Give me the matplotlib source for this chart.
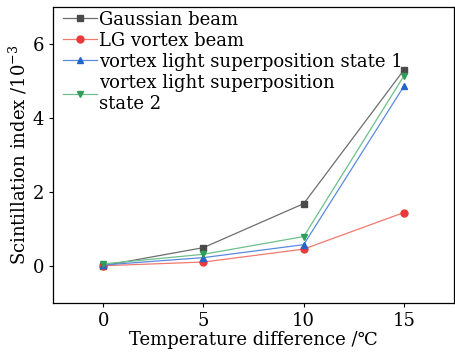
import matplotlib
matplotlib.use('Agg')
import matplotlib.pyplot as plt

plt.rcParams['font.family'] = ['DejaVu Serif', 'DejaVu Sans']
plt.rcParams['mathtext.fontset'] = 'dejavuserif'

# data
temp_diff = [0, 5, 10, 15]
gaussian = [0.0, 0.49, 1.68, 5.30]
lg_vortex = [0.0, 0.10, 0.45, 1.44]
state1 = [0.02, 0.22, 0.57, 4.86]
state2 = [0.05, 0.31, 0.79, 5.14]

labels = ['Gaussian beam', 'LG vortex beam',
          'vortex light superposition state 1',
          'vortex light superposition\nstate 2']
series = [gaussian, lg_vortex, state1, state2]
markers = ['s', 'o', '^', 'v']
line_colors = ['#6e6e6e', '#f07a70', '#5a8ae0', '#6cc08a']
marker_colors = ['#4a4a4a', '#e83a3a', '#2266cc', '#2e9e58']

fig = plt.figure(figsize=(4.55, 3.53), dpi=100)
ax = fig.add_axes([0.1165, 0.1425, 0.8815, 0.8375])

for y, lab, m, lc, mc in zip(series, labels, markers, line_colors, marker_colors):
    ax.plot(temp_diff, y, color=lc, lw=0.9, marker=m, markersize=5,
            markerfacecolor=mc, markeredgecolor=mc, label=lab)

ax.set_xlim(-2.5, 17.5)
ax.set_ylim(-1, 7)
ax.set_xticks([0, 5, 10, 15])
ax.set_yticks([0, 2, 4, 6])
ax.tick_params(labelsize=13, direction='out', length=3, width=0.8)
ax.set_xlabel('Temperature difference /\u2103', fontsize=13, labelpad=1)
ax.set_ylabel('Scintillation index /10$^{-3}$', fontsize=13, labelpad=2)
for s in ax.spines.values():
    s.set_linewidth(0.9)

leg = ax.legend(loc='upper left', bbox_to_anchor=(0.016, 1.0), frameon=False,
                fontsize=13, handlelength=1.9, handletextpad=0.1,
                labelspacing=0.17, borderaxespad=0.0, borderpad=0.2)
for t in leg.get_texts():
    t.set_linespacing(1.25)

fig.savefig('out.png', dpi=100)
